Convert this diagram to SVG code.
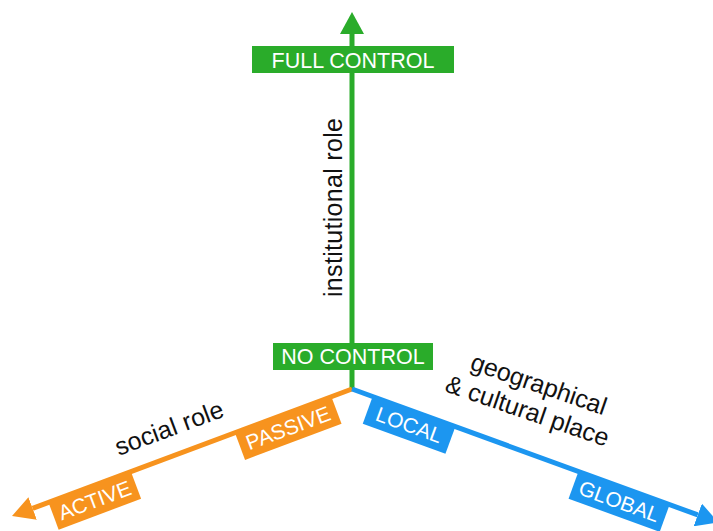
<svg xmlns="http://www.w3.org/2000/svg" width="713" height="531" viewBox="0 0 713 531">
  <style>
    .lbl { font-family: "Liberation Sans", Arial, sans-serif; fill: #ffffff; text-anchor: middle; }
    .axis { font-family: "Liberation Sans", Arial, sans-serif; fill: #111111; text-anchor: middle; }
    .g { fill: #2aac2a; }
    .o { fill: #f7931e; }
    .b { fill: #1c96f0; }
  </style>
  <defs>
    <marker id="arrG" markerUnits="userSpaceOnUse" markerWidth="22" markerHeight="24" viewBox="0 0 22 24" refX="0" refY="12" orient="auto">
      <path d="M0,0 L22,12 L0,24 Z" fill="#2aac2a"/>
    </marker>
    <marker id="arrO" markerUnits="userSpaceOnUse" markerWidth="22" markerHeight="24" viewBox="0 0 22 24" refX="0" refY="12" orient="auto">
      <path d="M0,0 L22,12 L0,24 Z" fill="#f7931e"/>
    </marker>
    <marker id="arrB" markerUnits="userSpaceOnUse" markerWidth="22" markerHeight="24" viewBox="0 0 22 24" refX="0" refY="12" orient="auto">
      <path d="M0,0 L22,12 L0,24 Z" fill="#1c96f0"/>
    </marker>
  </defs>
  <rect width="713" height="531" fill="#ffffff"/>

  <g id="connectors" fill="none" stroke-width="5">
    <line id="axis-institutional" x1="352" y1="389" x2="352" y2="34" stroke="#2aac2a" marker-end="url(#arrG)"/>
    <line id="axis-social" x1="352" y1="389" x2="32.6" y2="508.4" stroke="#f7931e" marker-end="url(#arrO)"/>
    <line id="axis-place" x1="352" y1="389" x2="697.8" y2="514.9" stroke="#1c96f0" marker-end="url(#arrB)"/>
  </g>

  <g id="full-control">
    <rect class="g" x="252" y="46" width="202" height="27"/>
    <text class="lbl" x="353" y="67.5" font-size="21.5">FULL CONTROL</text>
  </g>
  <g id="no-control">
    <rect class="g" x="273" y="343" width="160" height="27"/>
    <text class="lbl" x="353" y="364" font-size="21.5">NO CONTROL</text>
  </g>

  <g id="passive" transform="translate(352,389) rotate(-20.5)">
    <rect class="o" x="-125" y="-1" width="103" height="30"/>
    <text class="lbl" x="-73.5" y="21.5" font-size="21">PASSIVE</text>
  </g>
  <g id="active" transform="translate(352,389) rotate(-20.5)">
    <rect class="o" x="-324" y="-1" width="88" height="30"/>
    <text class="lbl" x="-280" y="21.5" font-size="21">ACTIVE</text>
  </g>

  <g id="local" transform="translate(352,389) rotate(20)">
    <rect class="b" x="22" y="-1" width="88" height="30"/>
    <text class="lbl" x="66" y="21.5" font-size="21">LOCAL</text>
  </g>
  <g id="global" transform="translate(352,389) rotate(20)">
    <rect class="b" x="241" y="-1" width="97" height="30"/>
    <text class="lbl" x="289.5" y="21.5" font-size="21">GLOBAL</text>
  </g>

  <g id="label-institutional" transform="translate(342,207.5) rotate(-90)">
    <text class="axis" x="0" y="0" font-size="25" textLength="179">institutional role</text>
  </g>
  <g id="label-social" transform="translate(352,389) rotate(-20.5)">
    <text class="axis" x="-185" y="-19" font-size="25" textLength="114">social role</text>
  </g>
  <g id="label-place" transform="translate(352,389) rotate(19)">
    <text class="axis" x="175" y="-57" font-size="25" textLength="142">geographical</text>
    <text class="axis" x="173" y="-28" font-size="25" textLength="171">&amp; cultural place</text>
  </g>
</svg>
